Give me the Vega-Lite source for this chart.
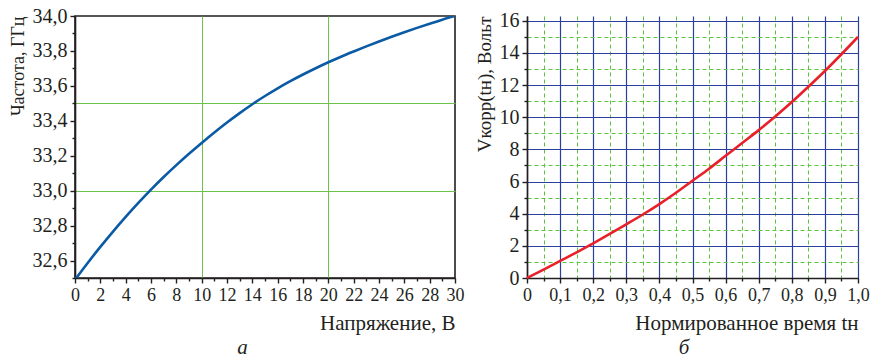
{
  "$schema": "https://vega.github.io/schema/vega-lite/v6.json",
  "padding": {"left": 8, "top": 5, "right": 0, "bottom": 0},
  "background": "white",
  "datasets": {
    "freq": [
      {"u": 0, "f": 32.49}, {"u": 1, "f": 32.586}, {"u": 2, "f": 32.678}, {"u": 3, "f": 32.766},
      {"u": 4, "f": 32.85}, {"u": 5, "f": 32.93}, {"u": 6, "f": 33.006}, {"u": 7, "f": 33.078},
      {"u": 8, "f": 33.146}, {"u": 9, "f": 33.211}, {"u": 10, "f": 33.273}, {"u": 11, "f": 33.333},
      {"u": 12, "f": 33.39}, {"u": 13, "f": 33.444}, {"u": 14, "f": 33.495}, {"u": 15, "f": 33.542},
      {"u": 16, "f": 33.586}, {"u": 17, "f": 33.627}, {"u": 18, "f": 33.665}, {"u": 19, "f": 33.701},
      {"u": 20, "f": 33.735}, {"u": 21, "f": 33.767}, {"u": 22, "f": 33.797}, {"u": 23, "f": 33.826},
      {"u": 24, "f": 33.854}, {"u": 25, "f": 33.881}, {"u": 26, "f": 33.907}, {"u": 27, "f": 33.932},
      {"u": 28, "f": 33.956}, {"u": 29, "f": 33.979}, {"u": 30, "f": 34.0}
    ],
    "vcorr": [
      {"t": 0, "v": 0}, {"t": 0.05, "v": 0.52}, {"t": 0.1, "v": 1.06}, {"t": 0.15, "v": 1.6},
      {"t": 0.2, "v": 2.16}, {"t": 0.25, "v": 2.74}, {"t": 0.3, "v": 3.34}, {"t": 0.35, "v": 3.95},
      {"t": 0.4, "v": 4.6}, {"t": 0.45, "v": 5.3}, {"t": 0.5, "v": 6.05}, {"t": 0.55, "v": 6.8},
      {"t": 0.6, "v": 7.6}, {"t": 0.65, "v": 8.4}, {"t": 0.7, "v": 9.2}, {"t": 0.75, "v": 10.05},
      {"t": 0.8, "v": 10.95}, {"t": 0.85, "v": 11.9}, {"t": 0.9, "v": 12.88}, {"t": 0.95, "v": 13.92},
      {"t": 1.0, "v": 15.0}
    ]
  },
  "config": {
    "font": "Liberation Serif",
    "axis": {
      "labelFont": "Liberation Serif",
      "labelFontSize": 18,
      "labelColor": "#231f20",
      "titleFont": "Liberation Serif",
      "titleFontSize": 18,
      "titleFontWeight": "normal",
      "titleColor": "#231f20",
      "domainColor": "#231f20",
      "domainWidth": 1.6,
      "tickColor": "#231f20",
      "tickWidth": 1.4,
      "tickSize": 5,
      "labelPadding": 3,
      "grid": false
    },
    "axisX": {"titleFontSize": 21},
    "axisY": {"labelFontSize": 20},
    "title": {
      "font": "Liberation Serif",
      "fontSize": 21,
      "fontStyle": "italic",
      "fontWeight": "normal",
      "color": "#231f20"
    }
  },
  "spacing": 9,
  "hconcat": [
    {
      "width": 380,
      "height": 262,
      "view": {"stroke": "#231f20", "strokeWidth": 1.6},
      "title": {"text": "а", "orient": "bottom", "anchor": "middle", "frame": "bounds", "offset": 4, "dx": 6},
      "data": {"name": "freq"},
      "resolve": {"axis": {"x": "independent", "y": "independent"}},
      "layer": [
        {
          "mark": {"type": "line", "opacity": 0},
          "encoding": {
            "x": {"field": "u", "type": "quantitative", "scale": {"domain": [0, 30], "nice": false},
                  "axis": {"orient": "bottom", "values": [10, 20], "grid": true, "gridColor": "#6cc24a", "gridWidth": 1,
                           "ticks": false, "labels": false, "domain": false, "title": null}},
            "y": {"field": "f", "type": "quantitative", "scale": {"domain": [32.5, 34.0], "nice": false, "zero": false},
                  "axis": {"orient": "left", "values": [33.0, 33.5], "grid": true, "gridColor": "#6cc24a", "gridWidth": 1,
                           "ticks": false, "labels": false, "domain": false, "title": null}}
          }
        },
        {
          "mark": {"type": "line", "opacity": 0},
          "encoding": {
            "x": {"field": "u", "type": "quantitative",
                  "axis": {"orient": "bottom", "values": [1, 3, 5, 7, 9, 11, 13, 15, 17, 19, 21, 23, 25, 27, 29],
                           "tickSize": 3, "labels": false, "domain": false, "title": null}},
            "y": {"field": "f", "type": "quantitative",
                  "axis": {"orient": "left", "values": [32.5, 32.7, 32.9, 33.1, 33.3, 33.5, 33.7, 33.9],
                           "tickSize": 3, "labels": false, "domain": false, "title": null}}
          }
        },
        {
          "mark": {"type": "line", "color": "#0b5aa6", "strokeWidth": 2.6, "clip": true, "interpolate": "monotone"},
          "encoding": {
            "x": {"field": "u", "type": "quantitative",
                  "axis": {"orient": "bottom", "values": [0, 2, 4, 6, 8, 10, 12, 14, 16, 18, 20, 22, 24, 26, 28, 30],
                           "title": "Напряжение, В", "titleAnchor": "end", "titlePadding": 8, "labelFlush": false}},
            "y": {"field": "f", "type": "quantitative",
                  "axis": {"orient": "left", "values": [32.6, 32.8, 33.0, 33.2, 33.4, 33.6, 33.8, 34.0],
                           "labelExpr": "replace(format(datum.value, '.1f'), '.', ',')",
                           "title": "Частота, ГГц", "titleAnchor": "end", "titlePadding": 5, "labelFlush": false}}
          }
        }
      ]
    },
    {
      "width": 331,
      "height": 262,
      "view": {"stroke": null},
      "title": {"text": "б", "orient": "bottom", "anchor": "middle", "frame": "bounds", "offset": 4, "dx": 12},
      "data": {"name": "vcorr"},
      "resolve": {"axis": {"x": "independent", "y": "independent"}},
      "layer": [
        {
          "mark": {"type": "line", "opacity": 0},
          "encoding": {
            "x": {"field": "t", "type": "quantitative", "scale": {"domain": [0, 1], "nice": false},
                  "axis": {"orient": "bottom", "values": [0.05, 0.15, 0.25, 0.35, 0.45, 0.55, 0.65, 0.75, 0.85, 0.95],
                           "tickSize": 3, "labels": false, "domain": false, "title": null,
                           "grid": true, "gridColor": "#5cc43c", "gridWidth": 1, "gridDash": [4, 3]}},
            "y": {"field": "v", "type": "quantitative", "scale": {"domain": [0, 16.3], "nice": false},
                  "axis": {"orient": "left", "values": [1, 3, 5, 7, 9, 11, 13, 15],
                           "tickSize": 3, "labels": false, "domain": false, "title": null,
                           "grid": true, "gridColor": "#5cc43c", "gridWidth": 1, "gridDash": [4, 3]}}
          }
        },
        {
          "mark": {"type": "line", "color": "#e8202a", "strokeWidth": 2.6, "interpolate": "monotone"},
          "encoding": {
            "x": {"field": "t", "type": "quantitative",
                  "axis": {"orient": "bottom", "values": [0, 0.1, 0.2, 0.3, 0.4, 0.5, 0.6, 0.7, 0.8, 0.9, 1.0],
                           "labelExpr": "datum.value == 0 ? '0' : replace(format(datum.value, '.1f'), '.', ',')",
                           "grid": true, "gridColor": "#2b3f9c", "gridWidth": 1.2,
                           "title": "Нормированное время tн", "titleAnchor": "end", "titlePadding": 8, "labelFlush": false}},
            "y": {"field": "v", "type": "quantitative",
                  "axis": {"orient": "left", "values": [0, 2, 4, 6, 8, 10, 12, 14, 16],
                           "grid": true, "gridColor": "#2b3f9c", "gridWidth": 1.2, "titleFontSize": 19,
                           "title": "Vкорр(tн),  Вольт", "titleAnchor": "end", "titlePadding": 5, "labelFlush": false}}
          }
        }
      ]
    }
  ]
}
